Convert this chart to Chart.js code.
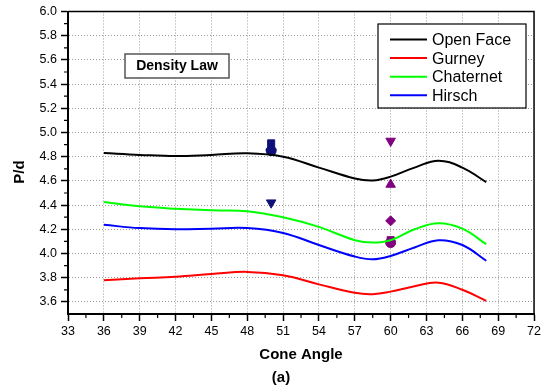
<!DOCTYPE html>
<html>
<head>
<meta charset="utf-8">
<script src="https://cdn.jsdelivr.net/npm/chart.js@4/dist/chart.umd.min.js"></script>
<style>
  html, body { margin: 0; padding: 0; background: #fff; }
  canvas { display: block; }
</style>
</head>
<body>
<canvas id="c" width="544" height="392"></canvas>
<script>
// Cone angle samples along the fitted curves
const angles = [36, 39, 42, 45, 48, 51, 54, 57, 58.5, 60, 62, 64, 66, 68];
const openFace  = [4.83, 4.815, 4.805, 4.815, 4.828, 4.80, 4.71, 4.62, 4.603, 4.635, 4.71, 4.767, 4.71, 4.59];
const gurney    = [3.779, 3.795, 3.808, 3.83, 3.848, 3.82, 3.745, 3.675, 3.664, 3.685, 3.73, 3.759, 3.70, 3.609];
const chaternet = [4.425, 4.39, 4.37, 4.357, 4.35, 4.30, 4.22, 4.11, 4.09, 4.11, 4.20, 4.25, 4.205, 4.077];
const hirsch    = [4.237, 4.21, 4.20, 4.205, 4.21, 4.17, 4.07, 3.975, 3.952, 3.98, 4.05, 4.11, 4.07, 3.94];

// Measured points at 50 and 60 degrees
const measuredAngleA = 50;
const measuredA = [4.91, 4.87, 4.86, 4.85, 4.42];
const measuredAngleB = 60;
const measuredB = [4.93, 4.57, 4.27, 4.11, 4.09];

const xTicks = [33, 36, 39, 42, 45, 48, 51, 54, 57, 60, 63, 66, 69, 72];
const yTicks = [3.6, 3.8, 4.0, 4.2, 4.4, 4.6, 4.8, 5.0, 5.2, 5.4, 5.6, 5.8, 6.0];

const FONT = '"Liberation Sans", Arial, sans-serif';

function pts(xs, ys) { return xs.map((x, i) => ({ x: x, y: ys[i] })); }
function curve(label, ys, color) {
  return { label: label, data: pts(angles, ys), showLine: true, borderColor: color,
           backgroundColor: color, borderWidth: 2, pointRadius: 0, tension: 0.4, fill: false };
}
function markers(x, ys, color, styles, rotations) {
  return { label: '', data: ys.map(y => ({ x: x, y: y })), showLine: false,
           pointStyle: styles, rotation: rotations,
           pointRadius: styles.map(s => s === 'triangle' ? 5.5 : 5),
           borderColor: color, backgroundColor: color, borderWidth: 1, isMarker: true };
}

// Frame, minor ticks, in-plot legend and captions
const decor = {
  id: 'decor',
  afterDraw(chart) {
    const ctx = chart.ctx, a = chart.chartArea;
    const xs = chart.scales.x, ys = chart.scales.y;
    ctx.save();
    // top and right frame
    ctx.strokeStyle = '#000'; ctx.lineWidth = 1.5;
    ctx.beginPath();
    ctx.moveTo(a.left, a.top); ctx.lineTo(a.right, a.top); ctx.lineTo(a.right, a.bottom);
    ctx.stroke();
    // minor ticks
    ctx.lineWidth = 1.2;
    ctx.beginPath();
    for (let v = 34.5; v < 72; v += 3) {
      const px = xs.getPixelForValue(v);
      ctx.moveTo(px, a.bottom); ctx.lineTo(px, a.bottom + 4);
    }
    for (let v = 3.7; v < 6.0; v += 0.2) {
      const py = ys.getPixelForValue(v);
      ctx.moveTo(a.left, py); ctx.lineTo(a.left - 4, py);
    }
    ctx.stroke();

    // legend box
    const lx = 378, ly = 24, lw = 148, lh = 84;
    ctx.fillStyle = '#fff';
    ctx.fillRect(lx, ly, lw, lh);
    ctx.strokeStyle = '#000'; ctx.lineWidth = 1.2;
    ctx.strokeRect(lx, ly, lw, lh);
    ctx.font = '16px ' + FONT;
    ctx.textBaseline = 'middle'; ctx.textAlign = 'left';
    const lines = chart.data.datasets.filter(d => !d.isMarker);
    lines.forEach((d, i) => {
      const y = 39.5 + i * 18.6;
      ctx.strokeStyle = d.borderColor; ctx.lineWidth = 2;
      ctx.beginPath(); ctx.moveTo(390, y); ctx.lineTo(427, y); ctx.stroke();
      ctx.fillStyle = '#000';
      ctx.fillText(d.label, 432, y + 1);
    });

    // "Density Law" label box
    ctx.fillStyle = '#fff';
    ctx.fillRect(125, 54, 104, 24);
    ctx.strokeStyle = '#555'; ctx.lineWidth = 1.5;
    ctx.strokeRect(125, 54, 104, 24);
    ctx.fillStyle = '#000';
    ctx.font = 'bold 14px ' + FONT;
    ctx.textAlign = 'center';
    ctx.fillText('Density Law', 177, 66.5);

    // axis titles and caption
    ctx.font = 'bold 15px ' + FONT;
    ctx.fillText('Cone Angle', 301, 355);
    ctx.fillText('(a)', 281, 378);
    ctx.save();
    ctx.translate(20, 172);
    ctx.rotate(-Math.PI / 2);
    ctx.fillText('P/d', 0, 0);
    ctx.restore();
    ctx.restore();
  }
};

const gridDash = [1, 2];

new Chart(document.getElementById('c'), {
  type: 'scatter',
  data: {
    datasets: [
      curve('Open Face', openFace, '#000000'),
      curve('Gurney', gurney, '#ff0000'),
      curve('Chaternet', chaternet, '#00ff00'),
      curve('Hirsch', hirsch, '#0000ff'),
      markers(measuredAngleA, measuredA, '#10107a',
              ['rect', 'triangle', 'rectRot', 'circle', 'triangle'], [0, 0, 0, 0, 180]),
      markers(measuredAngleB, measuredB, '#800080',
              ['triangle', 'triangle', 'rectRot', 'rect', 'circle'], [180, 0, 0, 0, 0])
    ]
  },
  options: {
    responsive: false,
    animation: false,
    devicePixelRatio: 1,
    layout: { padding: { top: 10, right: 8, left: 0, bottom: 0 } },
    plugins: { legend: { display: false }, tooltip: { enabled: false } },
    scales: {
      x: {
        type: 'linear', min: 33, max: 72,
        afterBuildTicks(s) { s.ticks = xTicks.map(v => ({ value: v })); },
        afterFit(s) { s.height = 78; },
        ticks: { color: '#000', font: { family: FONT, size: 12.5 }, padding: 3, maxRotation: 0,
                 callback: v => String(v) },
        grid: {
          color: c => (c.tick && (c.tick.value === 33 || c.tick.value === 72)) ? 'rgba(0,0,0,0)' : '#999999',
          lineWidth: 1, tickLength: 7, tickColor: '#000', tickWidth: 1.5
        },
        border: { display: true, color: '#000', width: 2, dash: gridDash }
      },
      y: {
        type: 'linear', min: 3.5, max: 6.0,
        afterBuildTicks(s) { s.ticks = yTicks.map(v => ({ value: v })); },
        afterFit(s) { s.width = 68; },
        ticks: { color: '#000', font: { family: FONT, size: 12.5 }, padding: 4,
                 callback: v => Number(v).toFixed(1) },
        grid: {
          color: c => (c.tick && Math.abs(c.tick.value - 6.0) < 1e-6) ? 'rgba(0,0,0,0)' : '#999999',
          lineWidth: 1, tickLength: 7, tickColor: '#000', tickWidth: 1.5
        },
        border: { display: true, color: '#000', width: 2, dash: gridDash }
      }
    }
  },
  plugins: [decor]
});
</script>
</body>
</html>
